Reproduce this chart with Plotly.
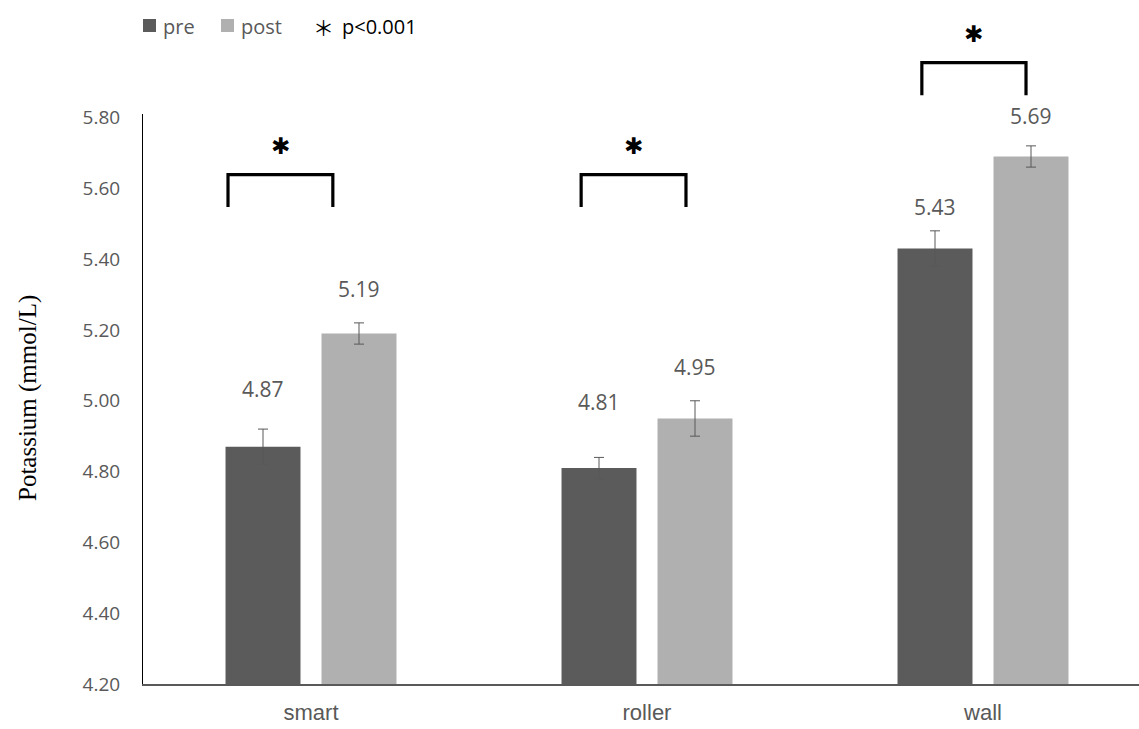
import plotly.graph_objects as go

# ---- data -------------------------------------------------------------
categories = ["smart", "roller", "wall"]
pre_values = [4.87, 4.81, 5.43]
post_values = [5.19, 4.95, 5.69]
pre_err = [0.05, 0.03, 0.05]
post_err = [0.03, 0.05, 0.03]
y_ticks = [4.20, 4.40, 4.60, 4.80, 5.00, 5.20, 5.40, 5.60, 5.80]
significance_label = "p<0.001"

# ---- styling / layout constants -----------------------------------------
PRE_COLOR = "#5b5b5b"
POST_COLOR = "#b0b0b0"
TEXT_GREY = "#595959"
W, H = 1139, 729
M_L, M_R, M_T, M_B = 143, 0, 114, 45
PLOT_W = W - M_L - M_R
PLOT_H = H - M_T - M_B
Y_MIN, Y_MAX = 4.2, 5.81
X_MIN = -0.5
X_MAX = X_MIN + PLOT_W / 336.0
BAR_GAP = 0.4286
GROUP_GAP = 0.219
SLOT = (1 - BAR_GAP) / 4  # bar centre offset from category centre

# value-label lift above each bar top (px)
pre_label_lift = [58, 66, 42]
post_label_lift = [45, 51, 40]

# significance brackets: (left, right) in x units, top level in y units
bracket_spans = [(-0.247, 0.065), (0.804, 1.116), (1.818, 2.128)]
bracket_tops = [5.639, 5.639, 5.955]
BRACKET_DROP = 0.092
STAR_LIFT = 29


def ypaper(v):
    return (v - Y_MIN) / (Y_MAX - Y_MIN)


def px_x(px):
    return (px - M_L) / PLOT_W


def px_y(py):
    return (H - M_B - py) / PLOT_H


x_pos = list(range(len(categories)))

fig = go.Figure()
fig.add_trace(go.Bar(
    name="pre", x=x_pos, y=pre_values, marker_color=PRE_COLOR,
    marker_line_width=0, showlegend=False,
    error_y=dict(type="data", array=pre_err, color=TEXT_GREY, thickness=1, width=5),
))
fig.add_trace(go.Bar(
    name="post", x=x_pos, y=post_values, marker_color=POST_COLOR,
    marker_line_width=0, showlegend=False,
    error_y=dict(type="data", array=post_err, color=TEXT_GREY, thickness=1, width=5),
))

annotations = []
shapes = []

# value labels above bars
for i in x_pos:
    for val, lift, off in ((pre_values[i], pre_label_lift[i], -SLOT),
                           (post_values[i], post_label_lift[i], SLOT)):
        annotations.append(dict(
            x=i + off, y=val, xref="x", yref="y", text=f"{val:.2f}",
            showarrow=False, yanchor="middle", xanchor="center", yshift=lift,
            font=dict(family="Open Sans", size=21, color=TEXT_GREY),
        ))

# significance brackets with stars
for (xl, xr), top in zip(bracket_spans, bracket_tops):
    path = (f"M{xl},{ypaper(top - BRACKET_DROP)} L{xl},{ypaper(top)} "
            f"L{xr},{ypaper(top)} L{xr},{ypaper(top - BRACKET_DROP)}")
    shapes.append(dict(type="path", xref="x", yref="paper", path=path,
                       line=dict(color="black", width=3.2)))
    annotations.append(dict(
        x=(xl + xr) / 2, y=ypaper(top), xref="x", yref="paper", text="✱",
        showarrow=False, xanchor="center", yanchor="middle", yshift=STAR_LIFT,
        font=dict(family="DejaVu Sans", size=23, color="black"),
    ))

# legend row
legend_items = [("pre", PRE_COLOR, 143, 163), ("post", POST_COLOR, 221, 241)]
for name, color, sq_left, txt_left in legend_items:
    shapes.append(dict(type="rect", xref="paper", yref="paper",
                       x0=px_x(sq_left), x1=px_x(sq_left + 13),
                       y0=px_y(32), y1=px_y(19),
                       fillcolor=color, line=dict(width=0)))
    annotations.append(dict(
        x=px_x(txt_left - 2), y=px_y(27), xref="paper", yref="paper", text=name,
        showarrow=False, xanchor="left", yanchor="middle",
        font=dict(family="Open Sans", size=20, color=TEXT_GREY),
    ))
annotations.append(dict(
    x=px_x(323), y=px_y(27), xref="paper", yref="paper", text="＊",
    showarrow=False, xanchor="center", yanchor="middle",
    font=dict(family="Noto Sans CJK JP", size=21, color="black"),
))
annotations.append(dict(
    x=px_x(340), y=px_y(27), xref="paper", yref="paper", text=significance_label,
    showarrow=False, xanchor="left", yanchor="middle",
    font=dict(family="Open Sans", size=20, color="black"),
))

# y-axis title
annotations.append(dict(
    x=px_x(28), y=px_y(398), xref="paper", yref="paper",
    text="Potassium (mmol/L)", textangle=-90, showarrow=False,
    xanchor="center", yanchor="middle",
    font=dict(family="Liberation Serif", size=25, color="black"),
))

fig.update_layout(
    width=W, height=H,
    margin=dict(l=M_L, r=M_R, t=M_T, b=M_B, pad=0),
    paper_bgcolor="white", plot_bgcolor="white",
    barmode="group", bargap=BAR_GAP, bargroupgap=GROUP_GAP,
    showlegend=False,
    annotations=annotations, shapes=shapes,
    xaxis=dict(
        range=[X_MIN, X_MAX], tickvals=x_pos, ticktext=categories,
        showgrid=False, zeroline=False, showline=True,
        linecolor=TEXT_GREY, linewidth=2, ticks="",
        tickfont=dict(family="Liberation Sans", size=22, color=TEXT_GREY),
        ticklabelstandoff=8,
    ),
    yaxis=dict(
        range=[Y_MIN, Y_MAX], tickvals=y_ticks,
        ticktext=[f"{v:.2f}" for v in y_ticks],
        showgrid=False, zeroline=False, showline=True,
        linecolor="black", linewidth=1, ticks="",
        tickfont=dict(family="Open Sans", size=19, color=TEXT_GREY),
        ticklabelstandoff=18,
    ),
)

fig.write_html("out.html")
